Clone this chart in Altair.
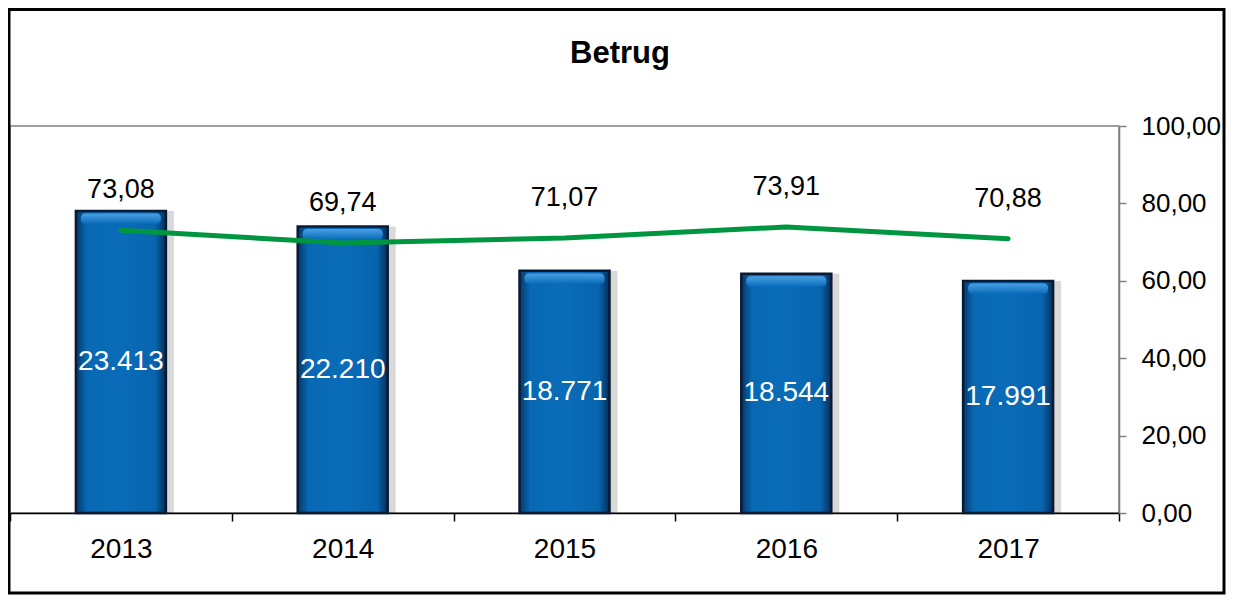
import altair as alt
import pandas as pd

years = ["2013", "2014", "2015", "2016", "2017"]
counts = [23413, 22210, 18771, 18544, 17991]
percents = [73.08, 69.74, 71.07, 73.91, 70.88]
title_text = "Betrug"

df = pd.DataFrame({"year": years, "count": counts, "pct": percents})

FONT = "Liberation Sans"
W, H = 1109, 387

x = alt.X("year:N", sort=years, scale=alt.Scale(paddingInner=0, paddingOuter=0),
          axis=alt.Axis(title=None, labelAngle=0, tickBand="extent", domainColor="black",
                        tickColor="black", tickSize=8, domainWidth=1.5, tickWidth=1.5,
                        labelFontSize=28, labelFont=FONT, labelColor="black", labelPadding=14))

cscale = alt.Scale(domain=[0, 30000])
ycount = alt.Y("count:Q", scale=cscale, axis=None)

base = alt.Chart(df).encode(x=x)

shadow = base.mark_bar(size=92, color="#000000", opacity=0.15, xOffset=7).encode(y=ycount)

bars = base.mark_bar(
    size=90,
    stroke="#0b1a33",
    strokeWidth=2.5,
    color=alt.Gradient(
        gradient="linear", x1=0, x2=1, y1=0, y2=0,
        stops=[alt.GradientStop(color="#06386a", offset=0),
               alt.GradientStop(color="#0868b4", offset=0.12),
               alt.GradientStop(color="#0a6cb8", offset=0.5),
               alt.GradientStop(color="#0864ae", offset=0.88),
               alt.GradientStop(color="#042e5a", offset=1)]),
).encode(y=ycount)

bevel = base.transform_calculate(
    t="datum.count - 200", b="datum.count - 1000"
).mark_bar(
    size=80, cornerRadius=4,
    color=alt.Gradient(
        gradient="linear", x1=0, x2=0, y1=0, y2=1,
        stops=[alt.GradientStop(color="#4a9fe4", offset=0),
               alt.GradientStop(color="#0a6cb8", offset=1)]),
).encode(y=alt.Y("t:Q", scale=cscale, axis=None), y2="b:Q")

bar_labels = base.transform_calculate(
    lbl="replace(format(datum.count, ','), ',', '.')",
    mid="datum.count / 2",
).mark_text(color="white", fontSize=28, font=FONT, baseline="middle").encode(
    y=alt.Y("mid:Q", scale=cscale, axis=None),
    text="lbl:N",
)

pscale = alt.Scale(domain=[0, 100])
ypct = alt.Y("pct:Q", scale=pscale,
             axis=alt.Axis(orient="right", title=None, values=[0, 20, 40, 60, 80, 100],
                           labelExpr="replace(format(datum.value, '.2f'), '.', ',')",
                           grid=False, domainColor="#808080", tickColor="#808080",
                           tickSize=7, domainWidth=1.5, tickWidth=1.5,
                           labelFontSize=26, labelFont=FONT, labelColor="black",
                           labelPadding=15))

line = base.mark_line(color="#009640", strokeWidth=5, interpolate="linear",
                      strokeCap="round", strokeJoin="round").encode(y=ypct)

line_labels = base.transform_calculate(
    lbl="replace(format(datum.pct, '.2f'), '.', ',')"
).mark_text(fontSize=27, font=FONT, color="black", dy=-40, baseline="middle").encode(
    y=alt.Y("pct:Q", scale=pscale),
    text="lbl:N",
)

deco = pd.DataFrame({"t": [title_text]})
frame = alt.Chart(deco).mark_rect(
    fill=None, stroke="black", strokeWidth=3, clip=False
).encode(x=alt.value(-1), x2=alt.value(W + 105), y=alt.value(-116.5), y2=alt.value(H + 80))

title = alt.Chart(deco).mark_text(
    font=FONT, fontSize=31, fontWeight="bold", color="black", baseline="alphabetic",
    align="center", clip=False
).encode(x=alt.value(610), y=alt.value(-63), text="t:N")

left = alt.layer(shadow, bars, bevel, bar_labels)
right = alt.layer(line, line_labels)

chart = alt.layer(left, right, frame, title).resolve_scale(y="independent").properties(
    width=W, height=H,
    background="white",
    autosize=alt.AutoSizeParams(type="none"),
    padding={"left": 2, "top": 118, "right": 107, "bottom": 82},
).configure_view(stroke="#808080", strokeWidth=1.5)

chart.save("out.html", embed_options={"renderer": "svg", "actions": False})
